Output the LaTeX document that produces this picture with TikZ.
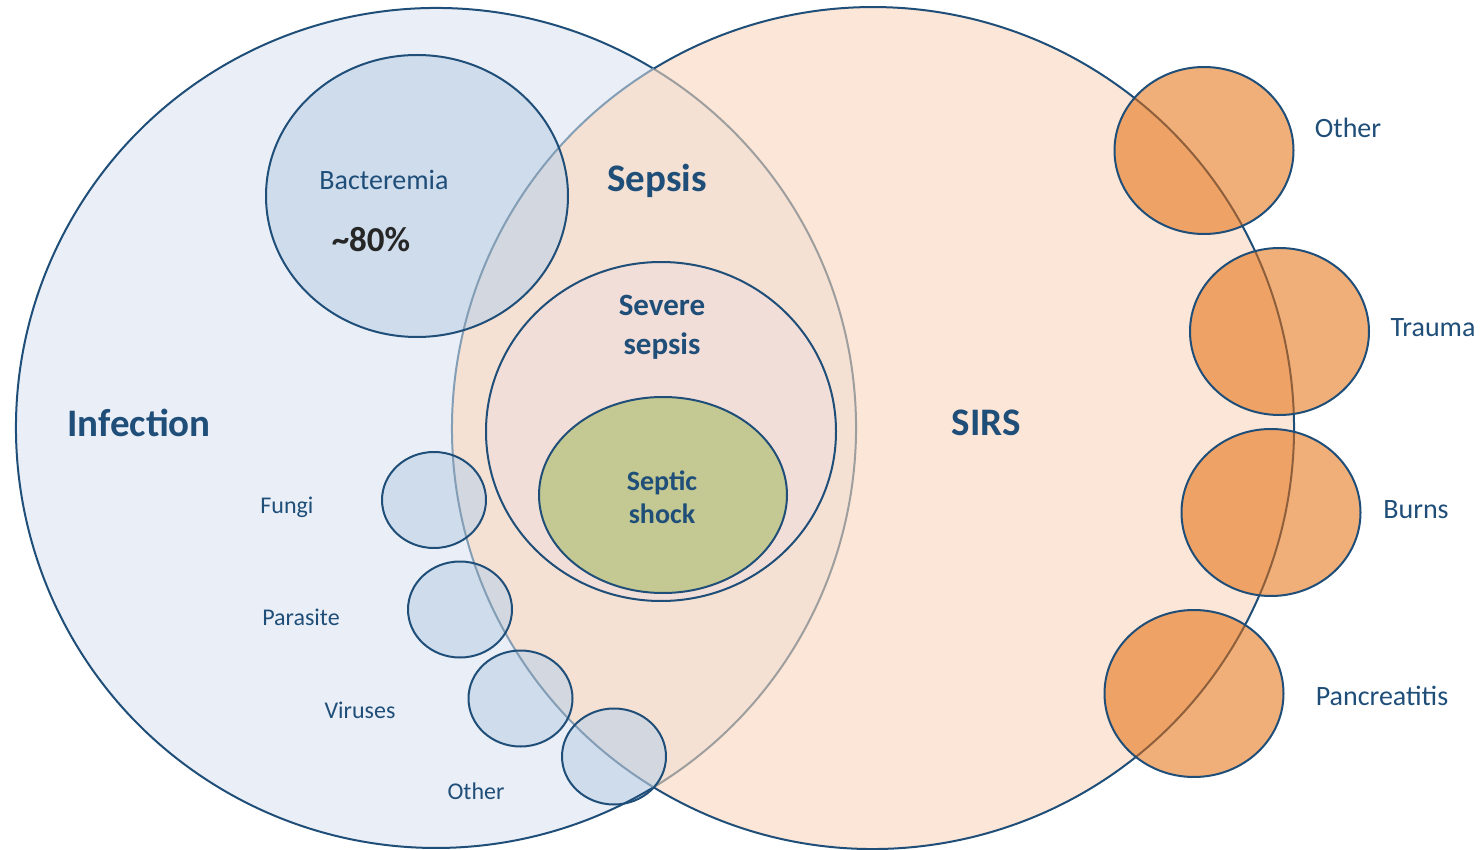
\documentclass[tikz,border=0pt]{standalone}
\usepackage{fontspec}
\setmainfont{Carlito}
\usetikzlibrary{positioning}
\definecolor{cline}{HTML}{1F4E79}
\definecolor{ctext}{HTML}{1F4E79}
\definecolor{cinf}{HTML}{EAEFF7}
\definecolor{csirs}{HTML}{FCE6D7}
\definecolor{cboth}{HTML}{F4E1D3}
\definecolor{csevere}{HTML}{F2DED8}
\definecolor{cshock}{HTML}{C4C993}
\definecolor{cblue}{HTML}{C0D3E7}
\definecolor{corange}{HTML}{E46E0E}
\tikzset{
  every picture/.style={line width=2pt},
  setline/.style={draw=cline, line width=2pt},
  bubble/.style={fill=cblue, fill opacity=0.65},
  cause/.style={fill=corange, fill opacity=0.56, draw=cline},
  setlabel/.style={font=\fontsize{39}{40}\selectfont\bfseries, text=ctext},
  stagelabel/.style={font=\bfseries, text=ctext, align=center},
  smalllabel/.style={font=\fontsize{24}{26}\selectfont, text=ctext},
  sidelabel/.style={font=\fontsize{28}{30}\selectfont, text=ctext},
}

\begin{document}
\begin{tikzpicture}[x=1pt, y=-1pt]
  \useasboundingbox (0,0) rectangle (1484,850);
  \def\infpath{(436,428) ellipse [x radius=420pt, y radius=420pt]}
  \def\sirspath{(873,428) ellipse [x radius=421pt, y radius=421pt]}

  % the two big sets
  \fill[cinf] \infpath;
  \fill[csirs] \sirspath;
  \begin{scope}
    \clip \infpath;
    \fill[cboth] \sirspath;
  \end{scope}

  % sepsis stages
  \draw[setline, fill=csevere] (661,431.5) ellipse [x radius=175pt, y radius=169.5pt];
  \draw[setline, fill=cshock] (663,495) ellipse [x radius=124pt, y radius=98pt];

  % organisms (fill only)
  \fill[bubble] (417,196) ellipse [x radius=151pt, y radius=141pt];
  \foreach \cx/\cy in {434/500, 460/609.5, 520.5/698.5, 614/756.5}
    \fill[bubble] (\cx,\cy) ellipse [x radius=52pt, y radius=48pt];

  % borders of the big sets, lighter where they run inside the other set
  \draw[setline] (436,428) ++(58.8:420pt) arc[start angle=58.8, end angle=301.2, radius=420pt];
  \draw[setline, draw=black!38] (436,428) ++(-58.8:420pt) arc[start angle=-58.8, end angle=58.8, radius=420pt];
  \draw[setline] (873,428) ++(-121.4:421pt) arc[start angle=-121.4, end angle=121.4, radius=421pt];
  \draw[setline, draw=cline!55] (873,428) ++(121.4:421pt) arc[start angle=121.4, end angle=238.6, radius=421pt];

  % organisms (outline)
  \draw[setline] (417,196) ellipse [x radius=151pt, y radius=141pt];
  \foreach \cx/\cy in {434/500, 460/609.5, 520.5/698.5, 614/756.5}
    \draw[setline] (\cx,\cy) ellipse [x radius=52pt, y radius=48pt];

  % non-infectious causes
  \foreach \cx/\cy in {1204/150.5, 1279.5/331.5, 1271/512.5, 1194/693.5}
    \draw[cause] (\cx,\cy) ellipse [x radius=89.5pt, y radius=83.5pt];

  % labels
  \node[setlabel] (infection) at (139,423) {Infection};
  \node[setlabel] (sirs) at (986,423) {SIRS};
  \node[setlabel] (sepsis) at (657,181) {Sepsis};
  \node[stagelabel, font=\fontsize{31}{39}\selectfont\bfseries] (severe) at (662,327) {Severe\\sepsis};
  \node[stagelabel, font=\fontsize{28}{33}\selectfont\bfseries] (shock) at (662,497) {Septic\\shock};
  \node[sidelabel] (bacteremia) at (384,180) {Bacteremia};
  \node[font=\fontsize{35}{36}\selectfont\bfseries, text=black!85] (share) at (371,240) {\textasciitilde80\%};

  \foreach \name/\lx/\ly in {Fungi/287/507, Parasite/301/617, Viruses/360/710, Other/476/791}
    \node[smalllabel] (inf-\name) at (\lx,\ly) {\name};
  \foreach \name/\lx/\ly in {Other/1348/128, Trauma/1433/328, Burns/1416/510, Pancreatitis/1382/696}
    \node[sidelabel] (sirs-\name) at (\lx,\ly) {\name};
\end{tikzpicture}
\end{document}
